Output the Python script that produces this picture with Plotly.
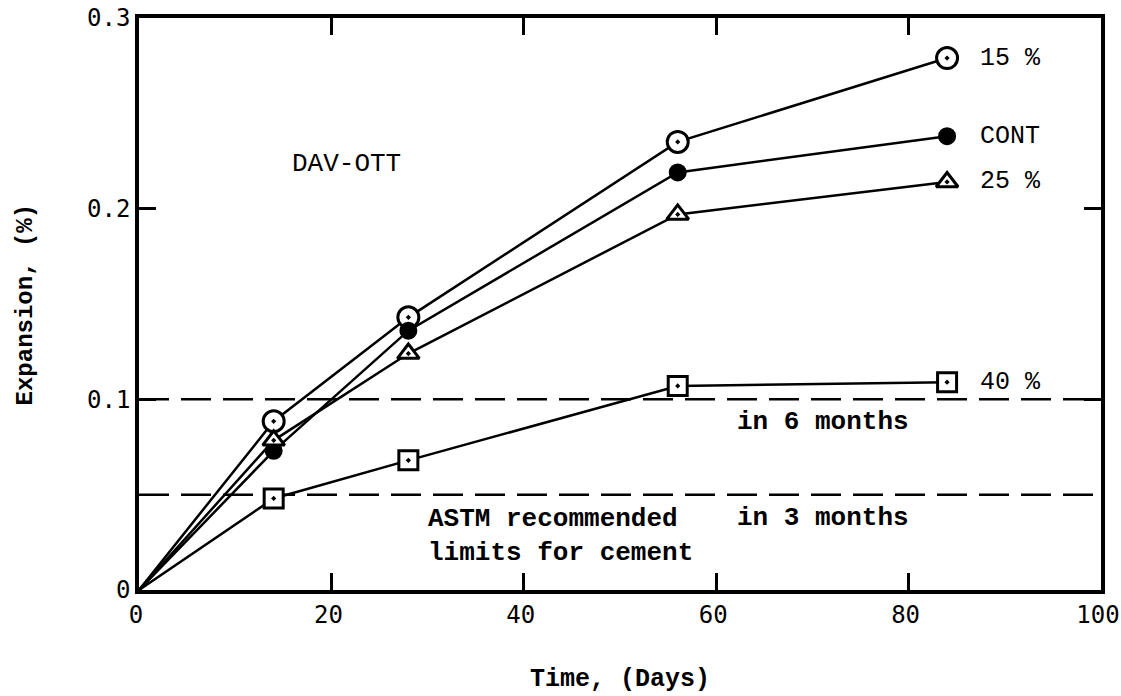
import plotly.graph_objects as go

# Data
days = [0, 14, 28, 56, 84]
exp_15 = [0, 0.0885, 0.143, 0.235, 0.279]
exp_cont = [0, 0.073, 0.136, 0.219, 0.238]
exp_25 = [0, 0.0785, 0.124, 0.197, 0.214]
exp_40 = [0, 0.048, 0.068, 0.107, 0.109]
series_names = ["15 %", "CONT", "25 %", "40 %"]
limit_6m = 0.10
limit_3m = 0.05

x_ticks = [0, 20, 40, 60, 80, 100]
y_ticks = [0, 0.1, 0.2, 0.3]
y_ticktext = ["0", "0.1", "0.2", "0.3"]

MONO = "Liberation Mono, Courier New, monospace"
NUM = "DejaVu Sans Mono, monospace"

fig = go.Figure()

# Limit lines
for yv in (limit_6m, limit_3m):
    fig.add_trace(go.Scatter(x=[0, 100], y=[yv, yv], mode="lines",
                             line=dict(color="black", width=2.5, dash="30px,12px"),
                             hoverinfo="skip", showlegend=False))

styles = [
    (exp_15, "circle-dot", 21, "white"),
    (exp_cont, "circle", 15, "black"),
    (exp_25, "triangle-up-dot", 19, "white"),
    (exp_40, "square-dot", 19, "white"),
]
for (vals, sym, sz, fill), name in zip(styles, series_names):
    fig.add_trace(go.Scatter(
        x=days, y=vals, mode="lines+markers", name=name,
        line=dict(color="black", width=2.5),
        marker=dict(symbol=sym, size=[0] + [sz] * (len(days) - 1), color=fill,
                    opacity=1, line=dict(color="black", width=3)),
        cliponaxis=False, showlegend=False))
    fig.add_annotation(x=87.2, y=vals[-1], text=name, showarrow=False,
                       xanchor="left", yanchor="middle",
                       font=dict(family=MONO, size=25, color="black"))

fig.add_annotation(x=15.7, y=0.2236, text="DAV-OTT", showarrow=False,
                   xanchor="left", yanchor="middle",
                   font=dict(family=MONO, size=26, color="black"))
fig.add_annotation(x=62.0, y=0.088, text="in 6 months", showarrow=False,
                   xanchor="left", yanchor="middle",
                   font=dict(family=MONO, size=26, color="black", weight="bold"))
fig.add_annotation(x=62.0, y=0.038, text="in 3 months", showarrow=False,
                   xanchor="left", yanchor="middle",
                   font=dict(family=MONO, size=26, color="black", weight="bold"))
fig.add_annotation(x=29.8, y=0.0285, text="ASTM recommended<br>limits for cement",
                   showarrow=False, xanchor="left", yanchor="middle", align="left",
                   font=dict(family=MONO, size=26, color="black", weight="bold"))

# Axis titles
fig.add_annotation(xref="paper", yref="paper", x=0.5, y=-0.157,
                   text="Time, (Days)", showarrow=False, xanchor="center", yanchor="middle",
                   font=dict(family=MONO, size=25, color="black", weight="bold"))
fig.add_annotation(xref="paper", yref="paper", x=-0.118, y=0.5, textangle=-90,
                   text="Expansion, (%)", showarrow=False, xanchor="center", yanchor="middle",
                   font=dict(family=MONO, size=24, color="black", weight="bold"))

axis_common = dict(showline=True, linecolor="black", linewidth=3.5, mirror="ticks",
                   ticks="inside", ticklen=17, tickwidth=2.5, tickcolor="black",
                   showgrid=False, zeroline=False, automargin=False,
                   ticklabeloverflow="allow",
                   tickfont=dict(family=NUM, size=24, color="black"))

fig.update_xaxes(range=[0, 100], tickvals=x_ticks, ticklabelshift=-3, **axis_common)
fig.update_yaxes(range=[0, 0.3], tickvals=y_ticks, ticktext=y_ticktext, **axis_common)

fig.update_layout(width=1121, height=696, plot_bgcolor="white", paper_bgcolor="white",
                  margin=dict(l=139, r=20, t=18, b=106), showlegend=False)

fig.write_html("out.html", config={"displayModeBar": False})

# remove the browser's default body margin so the figure fills the window exactly
with open("out.html", "r", encoding="utf-8") as f:
    html = f.read()
html = html.replace("<body>", '<body style="margin:0;padding:0;overflow:hidden">', 1)
with open("out.html", "w", encoding="utf-8") as f:
    f.write(html)
